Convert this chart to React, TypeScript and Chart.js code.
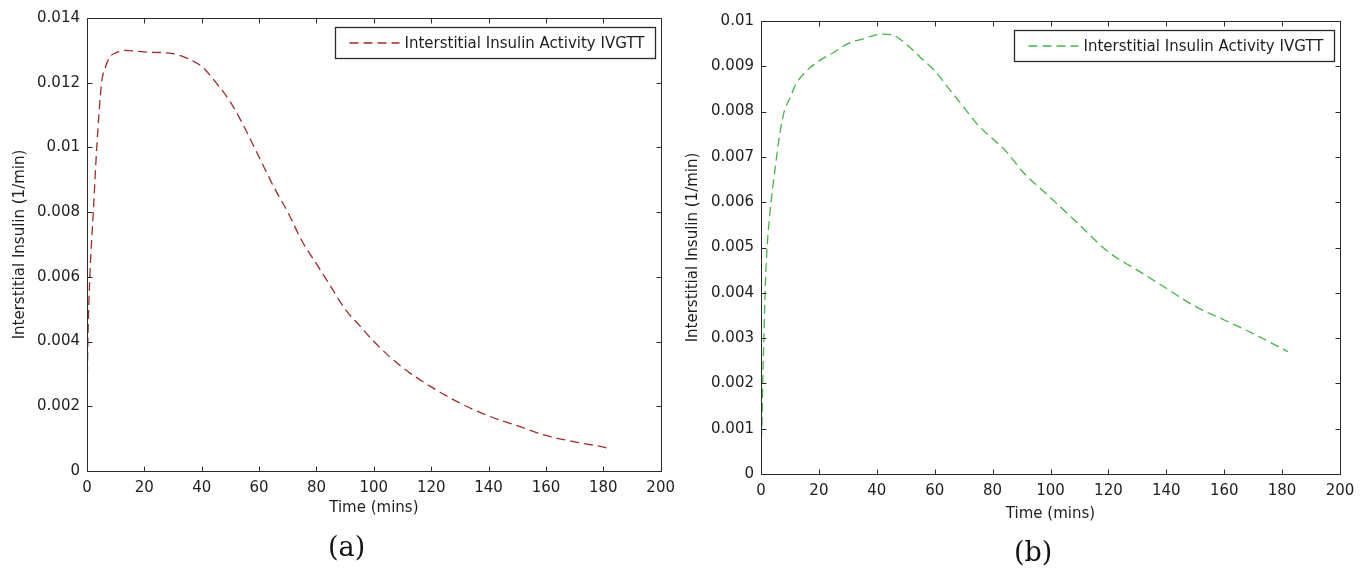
import React, { useEffect, useRef } from "react";
import { Chart, registerables } from "chart.js";

Chart.register(...registerables);

// ---------- data ----------
const timeA = [0, 0.3, 1, 2.2, 3.4, 5.1, 6.5, 8, 10, 13, 20, 30, 35, 40, 45, 50, 55, 60, 65, 70, 75, 80, 85, 90, 95, 100, 110, 120, 130, 140, 150, 160, 170, 180, 182];
const insulinA = [0.0021, 0.004, 0.006, 0.008, 0.01, 0.012, 0.0125, 0.0128, 0.01292, 0.013, 0.01295, 0.0129, 0.01275, 0.0125, 0.012, 0.0114, 0.0106, 0.0097, 0.0088, 0.008, 0.0071, 0.0064, 0.0057, 0.005, 0.0045, 0.004, 0.0032, 0.0026, 0.0021, 0.0017, 0.0014, 0.0011, 0.0009, 0.00074, 0.00069];

const timeB = [0, 0.3, 0.6, 1, 1.4, 2, 3, 4, 5, 6, 7, 8, 10, 12, 15, 20, 25, 30, 35, 40, 42, 45, 50, 55, 60, 65, 70, 75, 80, 85, 90, 100, 110, 120, 130, 140, 150, 160, 170, 182];
const insulinB = [0.00075, 0.001, 0.002, 0.003, 0.004, 0.0049, 0.0057, 0.0063, 0.0068, 0.0073, 0.0077, 0.008, 0.0083, 0.0086, 0.00885, 0.00912, 0.0093, 0.0095, 0.0096, 0.0097, 0.00971, 0.0097, 0.0095, 0.0092, 0.0089, 0.0085, 0.0081, 0.0077, 0.0074, 0.0071, 0.0067, 0.0061, 0.0055, 0.0049, 0.0045, 0.0041, 0.0037, 0.0034, 0.0031, 0.0027];

const xTickLabels = ["0", "20", "40", "60", "80", "100", "120", "140", "160", "180", "200"];
const yTickLabelsA = ["0", "0.002", "0.004", "0.006", "0.008", "0.01", "0.012", "0.014"];
const yTickLabelsB = ["0", "0.001", "0.002", "0.003", "0.004", "0.005", "0.006", "0.007", "0.008", "0.009", "0.01"];

const seriesLabel = "Interstitial Insulin Activity IVGTT";
const xTitle = "Time (mins)";
const yTitle = "Interstitial Insulin (1/min)";

const FONT = '"DejaVu Sans", "Liberation Sans", sans-serif';

// ---------- plugin: MATLAB-like frame, inward ticks, boxed legend ----------
const matlabFrame = {
  id: "matlabFrame",
  afterDraw(chart: any, _args: any, opts: any) {
    const { ctx, chartArea } = chart;
    const { left, right, top, bottom } = chartArea;
    const xs = chart.scales.x;
    const ys = chart.scales.y;
    ctx.save();
    ctx.strokeStyle = "#2a2a2a";
    ctx.lineWidth = 1;
    ctx.setLineDash([]);
    const L = Math.round(left) + 0.5;
    const R = Math.round(right) + 0.5;
    const T = Math.round(top) + 0.5;
    const B = Math.round(bottom) + 0.5;
    ctx.beginPath();
    ctx.rect(L, T, R - L, B - T);
    ctx.stroke();
    const tl = 5;
    ctx.beginPath();
    xs.ticks.forEach((t: any) => {
      const p = Math.round(xs.getPixelForValue(t.value)) + 0.5;
      ctx.moveTo(p, B);
      ctx.lineTo(p, B - tl);
      ctx.moveTo(p, T);
      ctx.lineTo(p, T + tl);
    });
    ys.ticks.forEach((t: any) => {
      const p = Math.round(ys.getPixelForValue(t.value)) + 0.5;
      ctx.moveTo(L, p);
      ctx.lineTo(L + tl, p);
      ctx.moveTo(R, p);
      ctx.lineTo(R - tl, p);
    });
    ctx.stroke();

    // legend
    const ds = chart.data.datasets[0];
    ctx.font = "15px " + FONT;
    const tw = ctx.measureText(ds.label).width;
    const padL = 14, sample = 50, gap = 5, padR = 11, h = 31;
    const w = padL + sample + gap + tw + padR;
    const bx = Math.round(right - opts.insetRight - w) + 0.5;
    const by = Math.round(top + opts.insetTop) + 0.5;
    ctx.fillStyle = "#ffffff";
    ctx.fillRect(bx, by, w, h);
    ctx.strokeStyle = "#2a2a2a";
    ctx.lineWidth = 1.3;
    ctx.strokeRect(bx, by, Math.round(w), h);
    const cy = by + h / 2;
    ctx.strokeStyle = ds.borderColor;
    ctx.lineWidth = ds.borderWidth;
    ctx.setLineDash(ds.borderDash);
    ctx.beginPath();
    ctx.moveTo(bx + padL, cy);
    ctx.lineTo(bx + padL + sample, cy);
    ctx.stroke();
    ctx.setLineDash([]);
    ctx.fillStyle = "#1e1e1e";
    ctx.textBaseline = "middle";
    ctx.textAlign = "left";
    ctx.fillText(ds.label, bx + padL + sample + gap, cy + 1);
    ctx.restore();
  },
};

type PanelProps = {
  times: number[];
  values: number[];
  yLabels: string[];
  color: string;
  padTop: number;
  padRight: number;
  yWidth: number;
  xHeight: number;
  xTitlePad: number;
  yTitlePad: number;
  width: number;
  height: number;
};

function Panel(p: PanelProps) {
  const ref = useRef<HTMLCanvasElement | null>(null);
  useEffect(() => {
    if (!ref.current) return;
    const yVals = p.yLabels.map((s) => parseFloat(s));
    const xVals = xTickLabels.map((s) => parseFloat(s));
    const chart = new Chart(ref.current, {
      type: "line",
      data: {
        datasets: [
          {
            label: seriesLabel,
            data: p.times.map((t, i) => ({ x: t, y: p.values[i] })),
            borderColor: p.color,
            borderWidth: 1.3,
            borderDash: [9, 5],
            pointRadius: 0,
            cubicInterpolationMode: "monotone",
            fill: false,
          } as any,
        ],
      },
      options: {
        animation: false,
        responsive: false,
        devicePixelRatio: 1,
        layout: { padding: { left: 0, top: p.padTop, right: p.padRight, bottom: 0 } },
        plugins: {
          legend: { display: false },
          tooltip: { enabled: false },
          matlabFrame: { insetRight: 6, insetTop: 9 },
        } as any,
        scales: {
          x: {
            type: "linear",
            min: 0,
            max: 200,
            afterBuildTicks: (s: any) => {
              s.ticks = xVals.map((v) => ({ value: v }));
            },
            afterFit: (s: any) => {
              s.height = p.xHeight;
            },
            grid: { display: false, drawTicks: false },
            border: { display: false },
            ticks: {
              autoSkip: false,
              maxRotation: 0,
              padding: 8,
              color: "#1e1e1e",
              font: { family: FONT, size: 15 },
              callback: (v: any) => {
                const i = xVals.findIndex((q) => Math.abs(q - v) < 1e-9);
                return i >= 0 ? xTickLabels[i] : "";
              },
            },
            title: {
              display: true,
              text: xTitle,
              color: "#1e1e1e",
              font: { family: FONT, size: 15 },
              padding: { top: 0, bottom: p.xTitlePad },
            },
          },
          y: {
            type: "linear",
            min: 0,
            max: yVals[yVals.length - 1],
            afterBuildTicks: (s: any) => {
              s.ticks = yVals.map((v) => ({ value: v }));
            },
            afterFit: (s: any) => {
              s.width = p.yWidth;
            },
            grid: { display: false, drawTicks: false },
            border: { display: false },
            ticks: {
              autoSkip: false,
              padding: 7,
              color: "#1e1e1e",
              font: { family: FONT, size: 15 },
              callback: (v: any) => {
                const i = yVals.findIndex((q) => Math.abs(q - v) < 1e-12);
                return i >= 0 ? p.yLabels[i] : "";
              },
            },
            title: {
              display: true,
              text: yTitle,
              color: "#1e1e1e",
              font: { family: FONT, size: 15 },
              padding: { top: p.yTitlePad, bottom: 0 },
            },
          },
        },
      },
      plugins: [matlabFrame as any],
    });
    return () => chart.destroy();
  }, []);
  return <canvas ref={ref} width={p.width} height={p.height} style={{ display: "block" }} />;
}

export default function App() {
  const capStyle: React.CSSProperties = {
    position: "absolute",
    fontFamily: '"DejaVu Serif", "Liberation Serif", serif',
    fontSize: 27,
    lineHeight: "34px",
    color: "#111",
  };
  return (
    <div
      style={{
        position: "absolute",
        left: 0,
        top: 0,
        width: 1366,
        height: 572,
        background: "#fff",
        overflow: "hidden",
      }}
    >
      <div style={{ position: "absolute", left: 0, top: 0 }}>
        <Panel
          times={timeA}
          values={insulinA}
          yLabels={yTickLabelsA}
          color="#9e2c2c"
          padTop={18}
          padRight={20}
          yWidth={87}
          xHeight={69}
          xTitlePad={23}
          yTitlePad={11}
          width={683}
          height={540}
        />
      </div>
      <div style={{ position: "absolute", left: 683, top: 0 }}>
        <Panel
          times={timeB}
          values={insulinB}
          yLabels={yTickLabelsB}
          color="#45b545"
          padTop={21}
          padRight={26}
          yWidth={78}
          xHeight={66}
          xTitlePad={17}
          yTitlePad={1}
          width={683}
          height={540}
        />
      </div>
      <div style={{ ...capStyle, left: 328, top: 530 }}>(a)</div>
      <div style={{ ...capStyle, left: 1014, top: 535 }}>(b)</div>
    </div>
  );
}
